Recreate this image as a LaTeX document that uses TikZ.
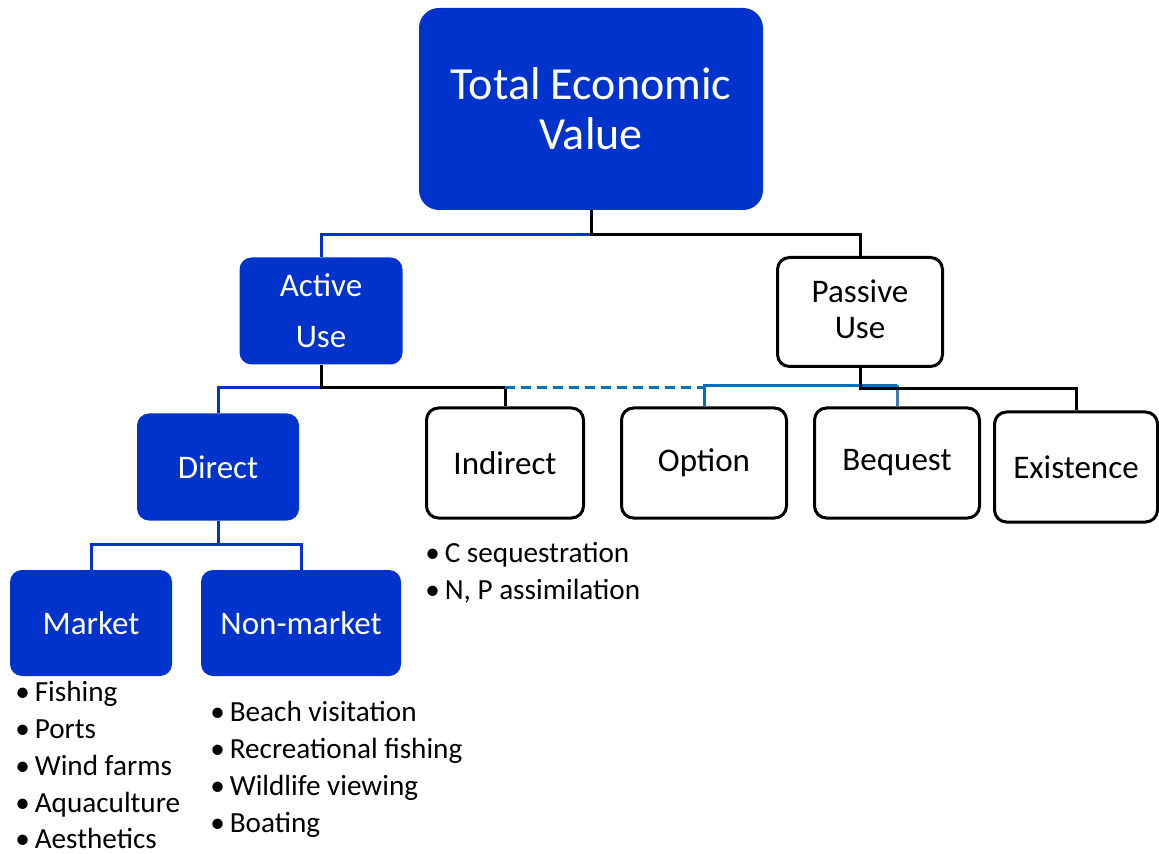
\documentclass[tikz,border=0pt]{standalone}
\usepackage{fontspec}
\setmainfont{Carlito}
\usetikzlibrary{positioning}

\definecolor{tevblue}{RGB}{0,51,204}
\definecolor{optblue}{RGB}{0,112,192}
\definecolor{beqblue}{RGB}{70,120,180}

\tikzset{
  bluebox/.style={draw=none,fill=tevblue,text=white,rounded corners=6pt,align=center,inner sep=0pt,
    font=\fontsize{16.5}{20}\selectfont},
  whitebox/.style={draw=black,line width=1.5pt,fill=white,rounded corners=6pt,align=center,inner sep=0pt,
    font=\fontsize{16.5}{18}\selectfont},
  blueline/.style={tevblue,line width=1.5pt},
  blackline/.style={black,line width=1.5pt},
  optline/.style={optblue,line width=1.5pt},
  bullets/.style={align=left,anchor=north west,inner sep=0pt,font=\fontsize{14.6}{18.4}\selectfont},
}

\begin{document}
\begin{tikzpicture}[x=0.5pt,y=-0.5pt]
  \useasboundingbox (0,0) rectangle (1159,854);

  % top level
  \node[bluebox,rounded corners=10pt,minimum width=172pt,minimum height=101pt,
        font=\fontsize{23}{25}\selectfont] (tev) at (591,109) {Total Economic\\Value};

  % use types
  \node[bluebox,minimum width=81.5pt,minimum height=53.5pt,
        font=\fontsize{16.5}{25.5}\selectfont] (active) at (321,311) {Active\\Use};
  \node[whitebox,minimum width=82.5pt,minimum height=54.5pt] (passive) at (860,312) {Passive\\Use\rule[-3pt]{0pt}{0pt}};

  % value types
  \node[bluebox,minimum width=81pt,minimum height=53.5pt] (direct) at (218,467) {Direct};
  \node[whitebox,minimum width=78.5pt,minimum height=55pt] (indirect) at (505,463) {Indirect};
  \node[whitebox,minimum width=82.5pt,minimum height=55pt] (option) at (704,463) {Option};
  \node[whitebox,minimum width=82.5pt,minimum height=55pt] (bequest) at (897,463) {Bequest};
  \node[whitebox,minimum width=81.5pt,minimum height=55pt] (existence) at (1076,467) {Existence};

  \node[bluebox,minimum width=81pt,minimum height=53pt] (market) at (91,623) {Market};
  \node[bluebox,minimum width=100pt,minimum height=53pt] (nonmarket) at (301,623) {Non-market};

  % connectors
  \draw[blueline] (tev.south) ++(0,24) coordinate (tj) -| (active.north);
  \draw[blackline] (tev.south) -- (tj) -| (passive.north);

  \draw[blueline] (active.south) ++(0,23) coordinate (aj) -| (direct.north);
  \draw[blackline] (active.south) -- (aj) -| (indirect.north);
  \draw[optline,dashed,dash pattern=on 5pt off 3pt] (indirect.north |- aj) -- (option.north |- aj);
  \draw[beqblue,line width=1.5pt] (bequest.north) -- ++(0,-21);
  \draw[optline] (option.north) |- ([yshift=1pt]bequest.north |- aj);
  \draw[blackline] (passive.south) -- ++(0,21) -| (existence.north);

  \draw[blueline] (direct.south) ++(0,24) coordinate (dj) -| (market.north);
  \draw[blueline] (dj) -| (nonmarket.north);
  \draw[blueline] (direct.south) -- (dj);

  % examples
  \node[bullets] (indirectlist) at (425,542) {\textbullet\,C sequestration\\\textbullet\,N, P assimilation};
  \node[bullets] (marketlist) at (15,681) {\textbullet\,Fishing\\\textbullet\,Ports\\\textbullet\,Wind farms\\\textbullet\,Aquaculture\\\textbullet\,Aesthetics};
  \node[bullets] (nonmarketlist) at (210,701) {\textbullet\,Beach visitation\\\textbullet\,Recreational fishing\\\textbullet\,Wildlife viewing\\\textbullet\,Boating};
\end{tikzpicture}
\end{document}
